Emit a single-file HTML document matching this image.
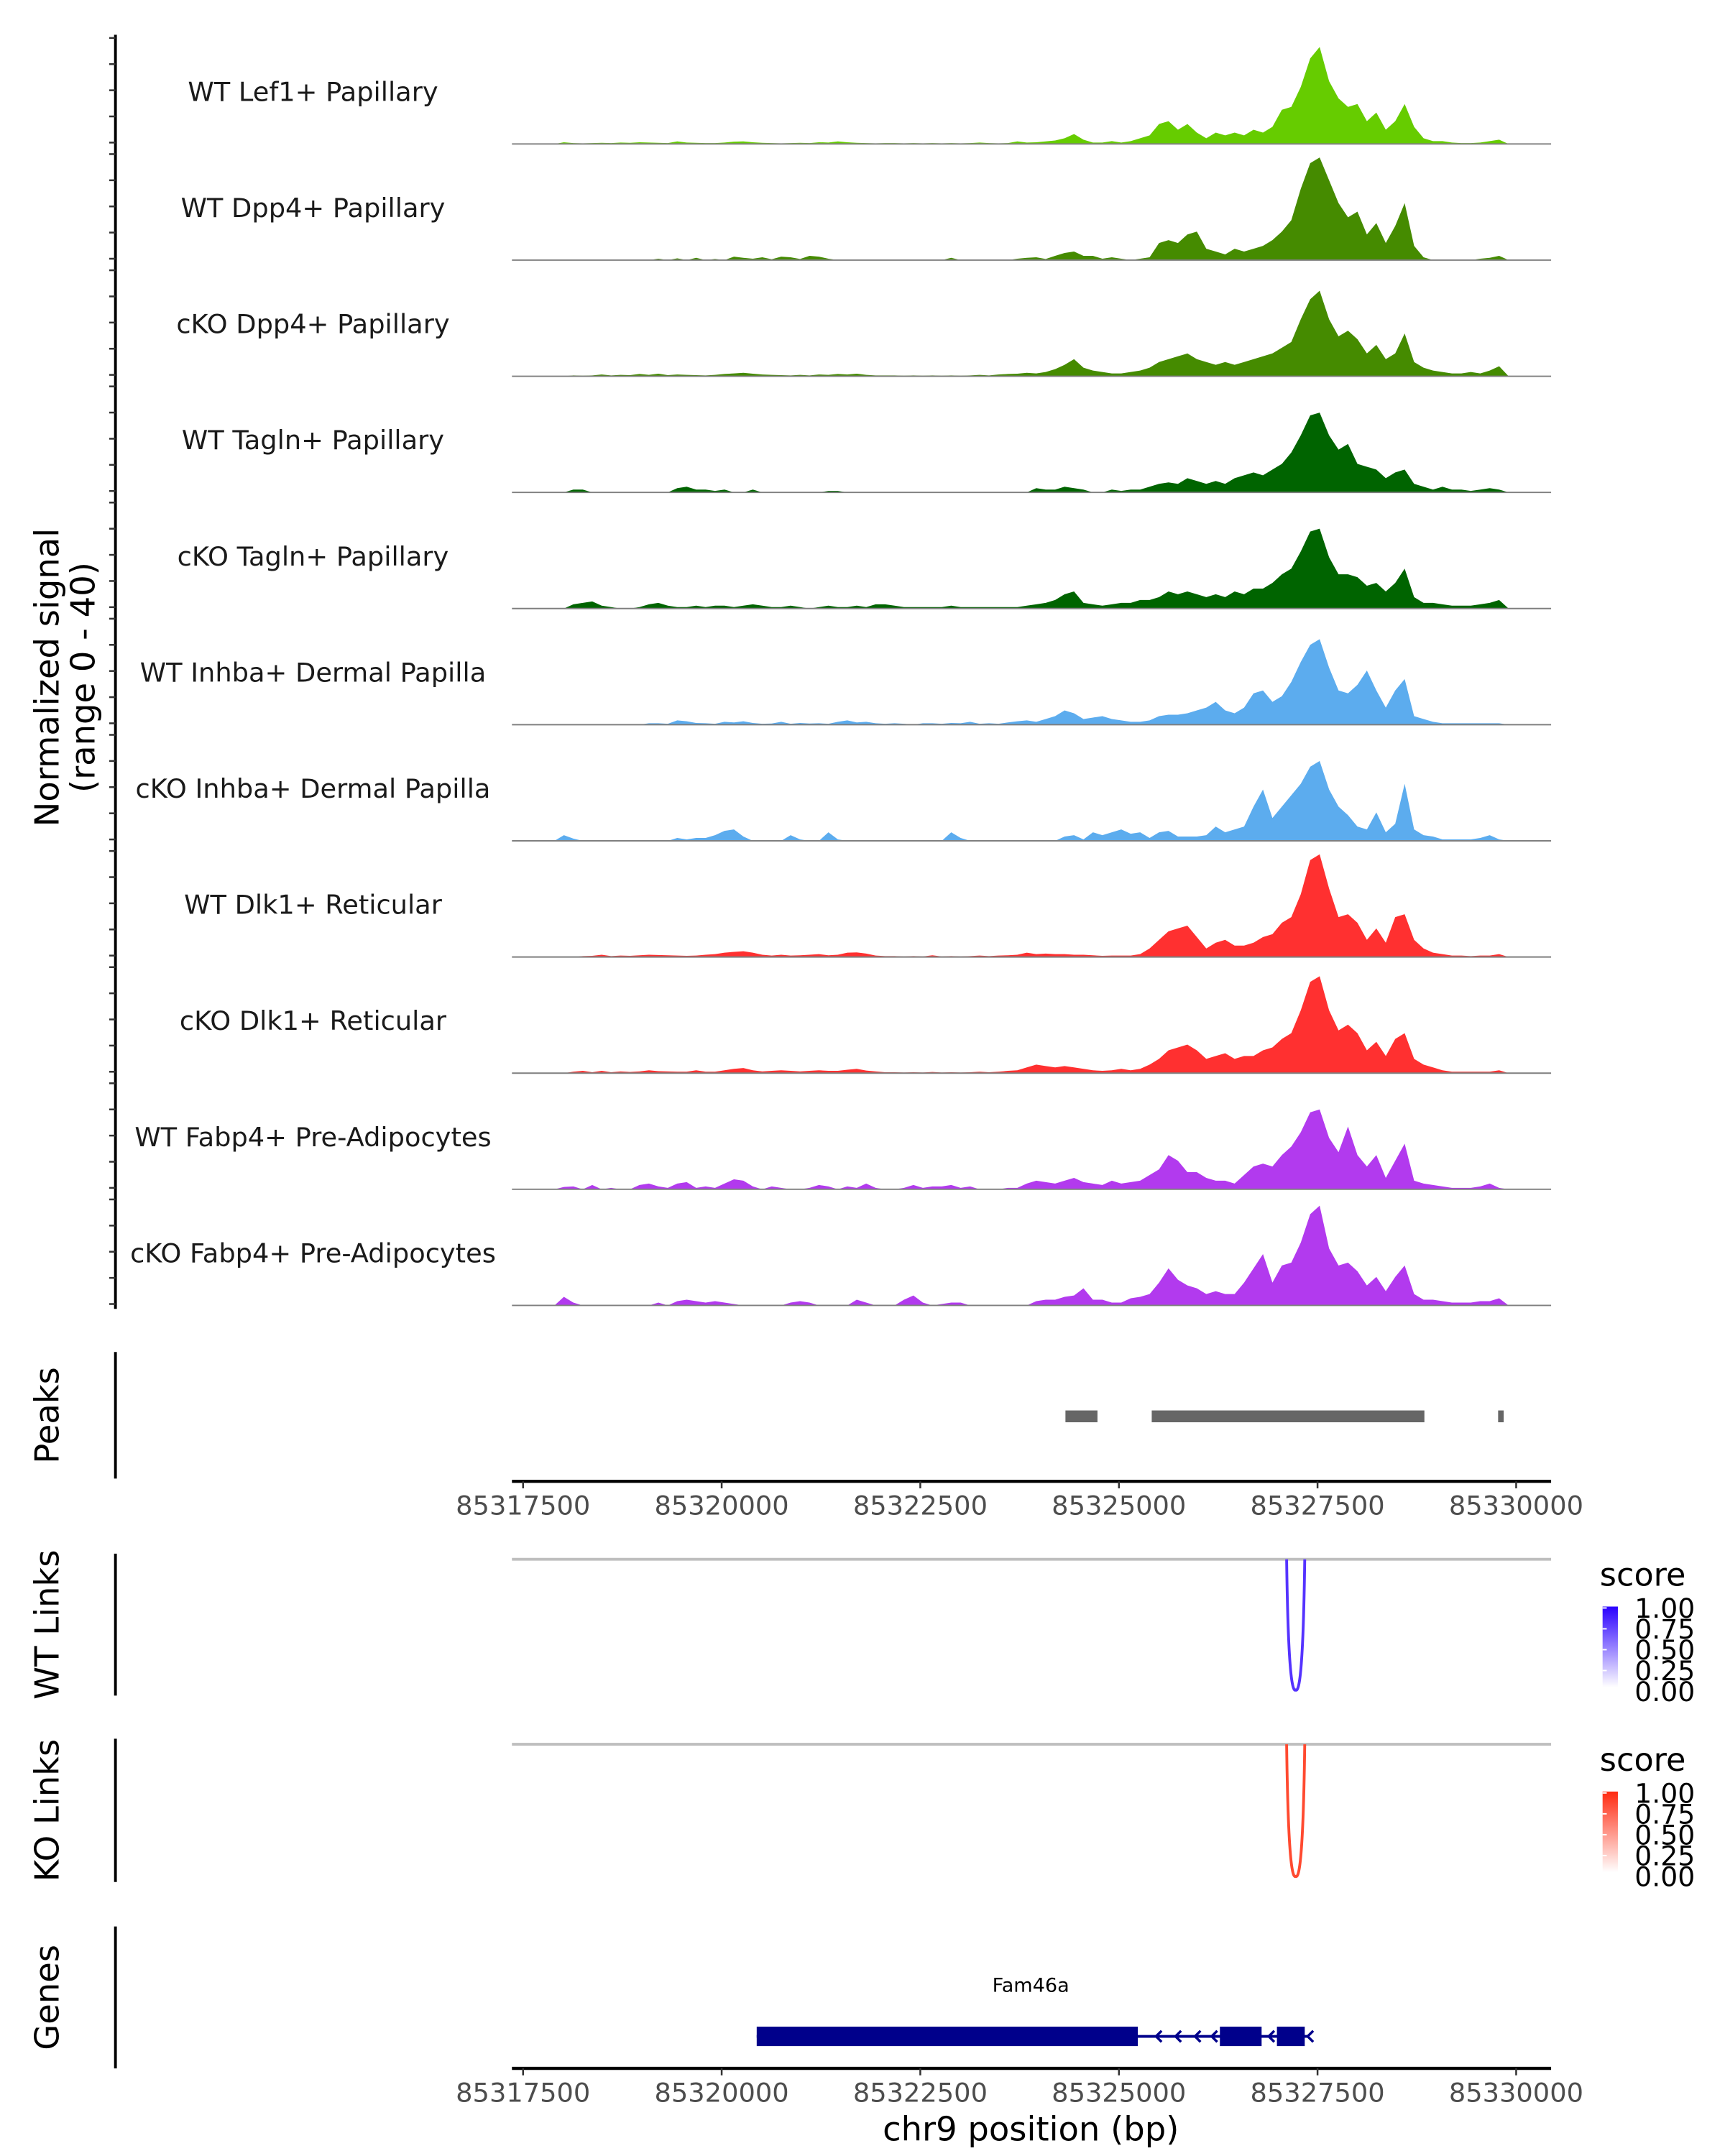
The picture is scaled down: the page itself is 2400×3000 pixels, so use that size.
<!DOCTYPE html>
<html><head><meta charset="utf-8"><style>
html,body{margin:0;padding:0;background:#fff}
svg{display:block}
text{font-family:"DejaVu Sans","Liberation Sans",sans-serif}
</style></head><body>
<svg id="chart" width="2400" height="3000" viewBox="0 0 1240 1550" xmlns="http://www.w3.org/2000/svg">
<defs>
<linearGradient id="gBlue" x1="0" y1="1" x2="0" y2="0"><stop offset="0" stop-color="#ffffff"/><stop offset="1" stop-color="#2a00ff"/></linearGradient>
<linearGradient id="gRed" x1="0" y1="1" x2="0" y2="0"><stop offset="0" stop-color="#ffffff"/><stop offset="1" stop-color="#ff2a10"/></linearGradient>
</defs>
<g id="root"></g>
</svg>
<script>
const trackNames = ["WT Lef1+ Papillary","WT Dpp4+ Papillary","cKO Dpp4+ Papillary","WT Tagln+ Papillary","cKO Tagln+ Papillary","WT Inhba+ Dermal Papilla","cKO Inhba+ Dermal Papilla","WT Dlk1+ Reticular","cKO Dlk1+ Reticular","WT Fabp4+ Pre-Adipocytes","cKO Fabp4+ Pre-Adipocytes"];
const trackColors = ["#66cc00","#458b00","#458b00","#006400","#006400","#5cacee","#5cacee","#ff3030","#ff3030","#b23aee","#b23aee"];
const sigLef1 = [0,0,0,0,0,0.6,0.3,0.2,0.3,0.4, 0.3,0.5,0.4,0.6,0.5,0.4,0.3,0.9,0.5,0.4, 0.3,0.3,0.5,0.8,0.9,0.6,0.4,0.3,0.2,0.3, 0.4,0.3,0.6,0.5,0.9,0.6,0.4,0.3,0.2,0.3, 0.3,0.2,0.3,0.2,0.3,0.2,0.3,0.2,0.3,0.5, 0.3,0.2,0.3,0.9,0.5,0.6,0.9,1.2,2,3.5, 1.5,0.5,0.5,1,0.5,1,2,3,7,8, 5,7,4,2,4,3,4,3,5,4, 6,12,13,20,30,34,22,16,13,14, 8,11,5,8,14,6,2,1,1,0.5, 0.3,0.3,0.5,1,1.5,0,0,0,0,0];
const sigDpp4WT = [0,0,0,0,0,0,0,0,0,0, 0,0,0,0,0,0.5,0,0.6,0,0.8, 0,0.4,0,1.2,0.8,0.5,1,0.3,1.2,1, 0.4,1.5,1.2,0.5,0,0,0,0,0,0, 0,0,0,0,0,0,0.8,0,0,0, 0,0,0,0.5,0.8,1,0.4,1.5,2.5,3, 1.5,1.5,0.5,1,0.5,0,0.5,1,6,7, 6,9,10,4,3,2,4,3,4,5, 7,10,14,25,34,36,28,20,15,17, 9,13,6,12,20,5,1,0,0,0, 0,0,0.5,0.8,1.5,0,0,0,0,0];
const sigDpp4KO = [0,0,0,0,0,0,0.3,0.2,0.3,0.6, 0.3,0.5,0.4,0.8,0.5,0.9,0.4,0.6,0.5,0.4, 0.3,0.5,0.8,1,1.2,0.9,0.6,0.5,0.4,0.3, 0.5,0.3,0.6,0.5,0.8,0.6,0.9,0.5,0.3,0.3, 0.3,0.2,0.3,0.2,0.3,0.2,0.3,0.2,0.3,0.5, 0.3,0.6,0.8,0.9,1.2,1,1.5,2.5,4,6, 3,2,1.5,1,1,1.5,2,3,5,6, 7,8,6,5,4,5,4,5,6,7, 8,10,12,20,27,30,20,14,16,13, 8,11,6,8,15,5,3,2,1.5,1, 1,1.5,1,2,3.5,0,0,0,0,0];
const sigTaglnWT = [0,0,0,0,0,0,1,1,0,0, 0,0,0,0,0,0,0,1.5,2,1, 1,0.5,1,0,0,1,0,0,0,0, 0,0,0,0.5,0.5,0,0,0,0,0, 0,0,0,0,0,0,0,0,0,0, 0,0,0,0,0,1.5,1,1,2,1.5, 1,0,0,1,0.5,1,1,2,3,3.5, 3,5,4,3,4,3,5,6,7,6, 8,10,14,20,27,28,20,15,17,10, 9,8,5,7,8,3,2,1,2,1, 1,0.5,1,1.5,1,0,0,0,0,0];
const sigTaglnKO = [0,0,0,0,0,0,1.5,2,2.5,1, 0.5,0,0,0.5,1.5,2,1,0.5,0.5,1, 0.5,1,1,0.5,1,1.5,1,0.5,0.5,1, 0.5,0,0.5,1,0.5,0.5,1,0.5,1.5,1.5, 1,0.5,0.5,0.5,0.5,0.5,1,0.5,0.5,0.5, 0.5,0.5,0.5,0.5,1,1.5,2,3,5,6, 2,1.5,1,1.5,2,2,3,3,4,6, 5,6,5,4,5,4,6,5,7,7, 9,12,14,20,27,28,18,12,12,11, 8,9,6,9,14,4,2,2,1.5,1, 1,1,1.5,2,3,0,0,0,0,0];
const sigInhbaWT = [0,0,0,0,0,0,0,0,0,0, 0,0,0,0,0.5,0.5,0.3,1.5,1.2,0.6, 0.5,0.3,1,0.8,1.2,0.6,0.3,0.4,1,0.3, 0.6,0.4,0.5,0.3,1,1.5,0.8,1,0.5,0.3, 0.5,0.3,0,0.5,0.5,0.3,0.6,0.5,1,0.3, 0.5,0.3,0.8,1.2,1.5,1,2,3,5,4, 2,2.5,3,2,1.5,1,1,1.5,3,3.5, 3.5,4,5,6,8,5,4,6,11,12, 8,10,15,22,28,30,20,12,11,14, 19,12,6,12,16,3,2,1,0.5,0.5, 0.5,0.5,0.5,0.5,0.5,0,0,0,0,0];
const sigInhbaKO = [0,0,0,0,0,2,0.8,0,0,0, 0,0,0,0,0,0,0,1,0.5,1, 1,2,3.5,4,1.5,0,0,0,0,2, 0.5,0,0,3,0.5,0,0,0,0,0, 0,0,0,0,0,0,3,1,0,0, 0,0,0,0,0,0,0,0,1.5,2, 0.5,3,2,3,4,2.5,3,1,3,3.5, 1.5,1.5,1.5,2,5,3,4,5,12,18, 8,12,16,20,26,28,18,12,9,5, 4,10,3,6,20,4,2,1.5,0.5,0.5, 0.5,0.5,1,2,0.5,0,0,0,0,0];
const sigDlk1WT = [0,0,0,0,0,0,0,0.3,0.4,0.8, 0.3,0.5,0.4,0.6,0.8,0.7,0.6,0.5,0.4,0.5, 0.8,1,1.5,1.8,2,1.5,0.8,0.5,0.8,0.5, 0.6,0.8,1,0.6,0.8,1.5,1.6,1.2,0.5,0.3, 0.3,0.2,0.3,0.2,0.6,0.2,0.3,0.2,0.3,0.5, 0.3,0.5,0.6,0.8,1.5,1,1.2,1,1,0.8, 0.8,0.6,0.4,0.5,0.5,0.5,1,3,6,9, 10,11,7,3,5,6,4,4,5,7, 8,12,14,22,34,36,24,14,15,12, 6,10,5,14,15,6,3,1.5,1,0.5, 0.5,0.3,0.5,0.5,1,0,0,0,0,0];
const sigDlk1KO = [0,0,0,0,0,0,0.5,0.8,0.3,0.8, 0.3,0.6,0.4,0.6,1,0.7,0.6,0.5,0.5,1, 0.5,0.5,1,1.5,1.8,1,0.6,0.8,1,0.8, 0.6,0.8,1,0.8,0.8,1.2,1.5,0.9,0.6,0.3, 0.3,0.2,0.3,0.2,0.4,0.2,0.3,0.2,0.3,0.5, 0.3,0.5,0.8,1,2,3,2.5,2,2.5,2, 1.5,1,0.8,1,1.5,1,1.5,3,5,8, 9,10,8,5,6,7,5,6,6,8, 9,12,14,22,32,34,22,15,17,14, 8,11,6,12,14,5,3,2,1,0.5, 0.5,0.5,0.5,0.5,1,0,0,0,0,0];
const sigFabp4WT = [0,0,0,0,0,0.8,1,0,1.5,0, 0.5,0,0,1.5,2,1,0.5,2,2.5,0.5, 1,0.5,2,3.5,3,1,0,1,0.5,0, 0,0.5,1.5,1,0,1,0.5,2,0.5,0, 0,0.5,1.5,0.5,1,1,1.5,0.5,1,0, 0,0,0.5,0.5,2,3,2.5,2,3,4, 2.5,2,1.5,3,2,2.5,3,5,7,12, 10,6,6,4,3,3,2,5,8,9, 8,12,15,20,27,28,18,13,22,12, 8,12,4,10,16,3,2,1.5,1,0.5, 0.5,0.5,1,2,0.5,0,0,0,0,0];
const sigFabp4KO = [0,0,0,0,0,3,1,0,0,0, 0,0,0,0,0,1,0,1.5,2,1.5, 1,1.5,1,0.5,0,0,0,0,0,1, 1.5,1,0,0,0,0,2,1,0,0, 0,2,3.5,1,0,0.5,1,1,0,0, 0,0,0,0,0,1.5,2,2,3,3.5, 6,2,2,1,1,2.5,3,4,8,13, 9,7,6,4,5,4,4,8,13,18, 8,14,15,22,32,35,20,14,15,12, 7,10,5,10,14,4,2,2,1.5,1, 1,1,1.5,1.5,2.5,0,0,0,0,0];
const trackSignals = [sigLef1,sigDpp4WT,sigDpp4KO,sigTaglnWT,sigTaglnKO,sigInhbaWT,sigInhbaKO,sigDlk1WT,sigDlk1KO,sigFabp4WT,sigFabp4KO];
const tickPositions = [85317500,85320000,85322500,85325000,85327500,85330000];
const tickLabels = ["85317500","85320000","85322500","85325000","85327500","85330000"];
const peakStarts = [85324327,85325413,85329773];
const peakEnds = [85324730,85328845,85329843];
const wtLinkStart = [85327111];
const wtLinkEnd = [85327339];
const koLinkStart = [85327111];
const koLinkEnd = [85327339];
const exonStarts = [85320441,85326271,85326989];
const exonEnds = [85325238,85326796,85327339];
const geneStart = 85320441, geneEnd = 85327380;
const legendTicks = ["1.00","0.75","0.50","0.25","0.00"];

const NS="http://www.w3.org/2000/svg";
const root=document.getElementById('root');
const X0=368,X1=1115,BP0=85317360,BP1=85330440;
function xs(bp){return X0+(bp-BP0)/(BP1-BP0)*(X1-X0);}
const nBins=110, binW=(X1-X0)/nBins;
function ys(v,base){return base-v/40*82;}
function el(tag,attrs,parent){const e=document.createElementNS(NS,tag);for(const k in attrs)e.setAttribute(k,attrs[k]);(parent||root).appendChild(e);return e;}
function txt(s,attrs,parent){const e=el('text',attrs,parent);e.textContent=s;return e;}

let a=el('line',{x1:83,y1:25,x2:83,y2:941,stroke:'#000','stroke-width':2});


trackNames.forEach((name,k)=>{
  const base=103.5+83.5*k;
  const g=el('g',{});
  
  
  for(let j=0;j<5;j++){const t=el('line',{x1:78.5,x2:83,y1:base-1-j*18.8,y2:base-1-j*18.8,stroke:'#333','stroke-width':1.3},g);
    
    }
  const arr=trackSignals[k];
  let d='M'+X0+','+base;
  arr.forEach((v,i)=>{d+=' L'+(X0+binW*(i+0.5)).toFixed(2)+','+ys(v,base).toFixed(2);});
  d+=' L'+(X0+binW*arr.length)+','+base+' Z';
  const p=el('path',{d:d,fill:trackColors[k]},g);
  
  
  const bl=el('line',{x1:X0,x2:X1,y1:base,y2:base,stroke:'#7f7f7f','stroke-width':1},g);
  
  
  const lb=txt(name,{x:225,y:base-31,'font-size':19,'text-anchor':'middle',fill:'#1a1a1a'},g);
  
  
});
let yt=txt('Normalized signal',{x:0,y:0,'font-size':24,'text-anchor':'middle',transform:'translate(42,487) rotate(-90)'});


yt=txt('(range 0 - 40)',{x:0,y:0,'font-size':24,'text-anchor':'middle',transform:'translate(68,487) rotate(-90)'});



function panelLabel(s,y1,y2,name){
  const l=el('line',{x1:83,x2:83,y1:y1,y2:y2,stroke:'#000','stroke-width':2});
  
  
  const t=txt(s,{x:0,y:0,'font-size':24,'text-anchor':'middle',transform:'translate(42,'+((y1+y2)/2)+') rotate(-90)'});
  
  
}
function xAxis(y,name){
  const l=el('line',{x1:X0,x2:X1,y1:y,y2:y,stroke:'#000','stroke-width':2.2});
  
  
  tickPositions.forEach((bp,i)=>{
    const t=el('line',{x1:xs(bp),x2:xs(bp),y1:y,y2:y+5,stroke:'#333','stroke-width':1.3});
    
    
    const s=txt(tickLabels[i],{x:xs(bp),y:y+24,'font-size':19,'text-anchor':'middle',fill:'#4d4d4d'});
    
    
  });
}
panelLabel('Peaks',972,1063,'peaks');
peakStarts.forEach((s,i)=>{
  const r=el('rect',{x:xs(s),y:1014,width:Math.max(2,xs(peakEnds[i])-xs(s)),height:8.5,fill:'#666666'});
  
  
});
xAxis(1065,'peaks-x-axis');

function linksPanel(y1,y2,label,starts,ends,color,grad,name){
  panelLabel(label,y1,y2,name);
  const top=y1+4;
  const g=el('line',{x1:X0,x2:X1,y1:top,y2:top,stroke:'#bebebe','stroke-width':2});
  
  
  starts.forEach((s,i)=>{
    const xa=xs(s),xb=xs(ends[i]),xm=(xa+xb)/2,bot=y2-4;
    const p=el('path',{d:`M${xa},${top} C${xa+1},${bot-20} ${xm-3},${bot+2} ${xm},${bot} C${xm+3},${bot+2} ${xb-1},${bot-20} ${xb},${top}`,fill:'none',stroke:color,'stroke-width':2});
    
    
  });
  const lg=el('g',{});
  
  
  const t=txt('score',{x:1150,y:y1+23,'font-size':23,fill:'#000'},lg);
  
  
  const r=el('rect',{x:1152,y:y1+38,width:11,height:58,fill:'url(#'+grad+')'},lg);
  
  
  legendTicks.forEach((s,i)=>{
    const ty=y1+39+i*15;
    const tk=el('line',{x1:1152,x2:1155,y1:ty,y2:ty,stroke:'#fff','stroke-width':1},lg);
    
    
    const l=txt(s,{x:1175,y:ty+7,'font-size':19.5,fill:'#000'},lg);
    
    
  });
}
linksPanel(1117,1219,'WT Links',wtLinkStart,wtLinkEnd,'#5533ff','gBlue','wt-links');
linksPanel(1250,1353,'KO Links',koLinkStart,koLinkEnd,'#ff4a30','gRed','ko-links');

panelLabel('Genes',1385,1487,'genes');
const gg=el('g',{});


const gl=el('line',{x1:xs(geneStart),x2:xs(geneEnd),y1:1464,y2:1464,stroke:'#00008b','stroke-width':2},gg);


exonStarts.forEach((s,i)=>{
  const r=el('rect',{x:xs(s),y:1457,width:xs(exonEnds[i])-xs(s),height:14,fill:'#00008b'},gg);
  
  
});
[832,846,860,872,913,941].forEach(cx=>{
  const c=el('path',{d:`M${cx+3},${1460} L${cx-1},${1464} L${cx+3},${1468}`,fill:'none',stroke:'#00008b','stroke-width':1.8},gg);
  
  
});
const gn=txt('Fam46a',{x:741,y:1432,'font-size':14,'text-anchor':'middle',fill:'#000'},gg);


xAxis(1487,'genes-x-axis');
const xt=txt('chr9 position (bp)',{x:741,y:1539,'font-size':24,'text-anchor':'middle',fill:'#000'});


</script>
</body></html>
